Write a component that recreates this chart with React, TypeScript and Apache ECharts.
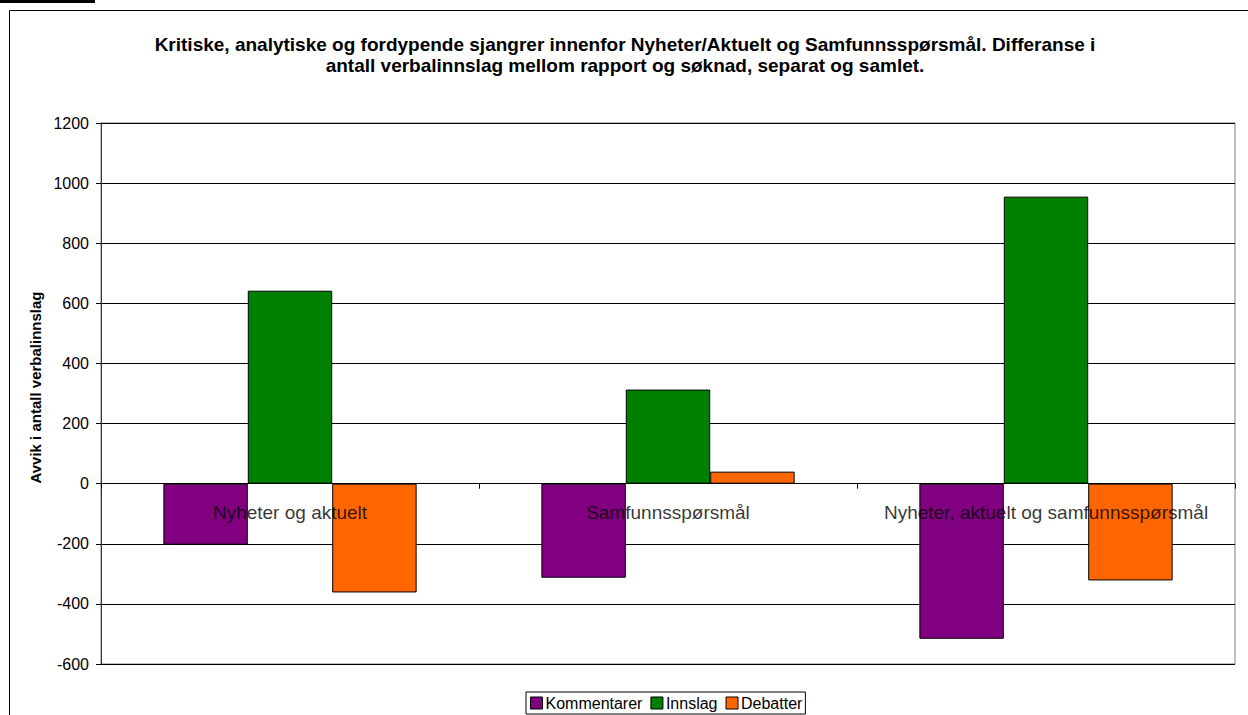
import React, { useEffect, useRef } from "react";
import * as echarts from "echarts";

const categories = ["Nyheter og aktuelt", "Samfunnsspørsmål", "Nyheter, aktuelt og samfunnsspørsmål"];
const kommentarer = [-203, -313, -516];
const innslag = [642, 313, 955];
const debatter = [-362, 40, -322];
const yTicks = { min: -600, max: 1200, interval: 200 };

const FONT = 'Arial, "Liberation Sans", sans-serif';

export default function App() {
  const ref = useRef<HTMLDivElement>(null);
  useEffect(() => {
    if (!ref.current) return;
    const chart = echarts.init(ref.current, undefined, { renderer: "svg" });
    const barStyle = (color: string) => ({ color, borderColor: "#000", borderWidth: 1 });
    chart.setOption({
      animation: false,
      backgroundColor: "#fff",
      textStyle: { fontFamily: FONT },
      title: {
        text: "Kritiske, analytiske og fordypende sjangrer innenfor Nyheter/Aktuelt og Samfunnsspørsmål. Differanse i\nantall verbalinnslag mellom rapport og søknad, separat og samlet.",
        left: 625,
        top: 34,
        padding: 0,
        textAlign: "center",
        textStyle: { fontFamily: FONT, fontSize: 19, fontWeight: "bold", color: "#000", lineHeight: 21, align: "center" },
      },
      graphic: [
        { type: "rect", shape: { x: 0, y: 0, width: 95, height: 3 }, style: { fill: "#000" }, silent: true },
        { type: "rect", shape: { x: 9.5, y: 10.5, width: 1400, height: 900 }, style: { fill: "none", stroke: "#000", lineWidth: 1 }, silent: true },
      ],
      grid: { left: 101, right: 13, top: 123, bottom: 51, show: true, borderColor: "#808080", borderWidth: 1, backgroundColor: "transparent" },
      legend: {
        data: ["Kommentarer", "Innslag", "Debatter"],
        left: 526,
        top: 692,
        icon: "rect",
        itemWidth: 12,
        itemHeight: 12,
        itemGap: 8,
        itemStyle: { borderColor: "#000", borderWidth: 1 },
        textStyle: { fontFamily: FONT, fontSize: 16, color: "#000", padding: [0, 0, 0, -2] },
        borderColor: "#000",
        borderWidth: 1,
        padding: [3, 3, 3, 4],
      },
      xAxis: {
        type: "category",
        data: categories,
        axisLine: { onZero: true, lineStyle: { color: "#000", width: 1 } },
        axisTick: { show: true, length: 5, inside: false, lineStyle: { color: "#000" } },
        axisLabel: { show: false },
        splitLine: { show: false },
      },
      yAxis: {
        type: "value",
        min: yTicks.min,
        max: yTicks.max,
        interval: yTicks.interval,
        name: "Avvik i antall verbalinnslag",
        nameLocation: "middle",
        nameGap: 51,
        nameTextStyle: { fontFamily: FONT, fontSize: 15, fontWeight: "bold", color: "#000", padding: [0, 0, 0, 12] },
        axisLine: { show: true, lineStyle: { color: "#333", width: 1 } },
        axisTick: { show: true, length: 5, inside: false, lineStyle: { color: "#000" } },
        axisLabel: { fontFamily: FONT, fontSize: 16, color: "#000", margin: 12, formatter: (v: number) => String(v) },
        splitLine: { show: true, lineStyle: { color: "#000", width: 1 } },
      },
      series: [
        { name: "Kommentarer", type: "bar", data: kommentarer, barGap: "0%", barCategoryGap: "33%", itemStyle: barStyle("#800080") },
        { name: "Innslag", type: "bar", data: innslag, barGap: "0%", barCategoryGap: "33%", itemStyle: barStyle("#008000") },
        { name: "Debatter", type: "bar", data: debatter, barGap: "0%", barCategoryGap: "33%", itemStyle: barStyle("#FF6600") },
        {
          name: "labels",
          type: "scatter",
          data: categories.map((c) => ({ name: c, value: [c, 0] })),
          symbolSize: 2,
          itemStyle: { color: "rgba(0,0,0,0)" },
          silent: true,
          z: 10,
          label: {
            show: true,
            position: "bottom",
            distance: 18,
            formatter: "{b}",
            fontFamily: FONT,
            fontSize: 19,
            color: "#000",
          },
        },
      ],
    });
    return () => chart.dispose();
  }, []);
  return <div ref={ref} style={{ position: "fixed", left: 0, top: 0, width: 1248, height: 715 }} />;
}
